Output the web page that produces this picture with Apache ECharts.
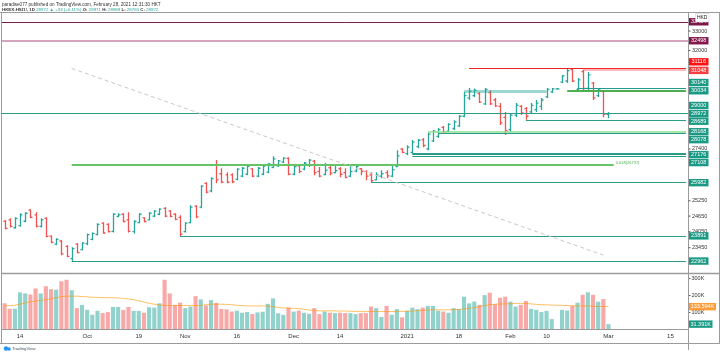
<!DOCTYPE html>
<html><head><meta charset="utf-8">
<script src="https://cdn.jsdelivr.net/npm/echarts/dist/echarts.min.js"></script>
<style>html,body{margin:0;padding:0;background:#fff}#c{width:720px;height:354px}</style>
</head><body><div id="c"></div>
<script>
const barDates = ['2020-09-09','2020-09-10','2020-09-11','2020-09-14','2020-09-15','2020-09-16','2020-09-17','2020-09-18','2020-09-21','2020-09-22','2020-09-23','2020-09-24','2020-09-25','2020-09-28','2020-09-29','2020-09-30',
'2020-10-05','2020-10-06','2020-10-07','2020-10-08','2020-10-09','2020-10-12','2020-10-13','2020-10-14','2020-10-15','2020-10-16','2020-10-19','2020-10-20','2020-10-21','2020-10-22','2020-10-23','2020-10-27','2020-10-28','2020-10-29','2020-10-30',
'2020-11-02','2020-11-03','2020-11-04','2020-11-05','2020-11-06','2020-11-09','2020-11-10','2020-11-11','2020-11-12','2020-11-13','2020-11-16','2020-11-17','2020-11-18','2020-11-19','2020-11-20','2020-11-23','2020-11-24','2020-11-25','2020-11-26','2020-11-27','2020-11-30',
'2020-12-01','2020-12-02','2020-12-03','2020-12-04','2020-12-07','2020-12-08','2020-12-09','2020-12-10','2020-12-11','2020-12-14','2020-12-15','2020-12-16','2020-12-17','2020-12-18','2020-12-21','2020-12-22','2020-12-23','2020-12-24','2020-12-28','2020-12-29','2020-12-30','2020-12-31',
'2021-01-04','2021-01-05','2021-01-06','2021-01-07','2021-01-08','2021-01-11','2021-01-12','2021-01-13','2021-01-14','2021-01-15','2021-01-18','2021-01-19','2021-01-20','2021-01-21','2021-01-22','2021-01-25','2021-01-26','2021-01-27','2021-01-28','2021-01-29',
'2021-02-01','2021-02-02','2021-02-03','2021-02-04','2021-02-05','2021-02-08','2021-02-09','2021-02-10','2021-02-11','2021-02-12','2021-02-16','2021-02-17','2021-02-18','2021-02-19','2021-02-22','2021-02-23','2021-02-24','2021-02-25','2021-02-26','2021-03-01'];
const futureDates = ['2021-03-02','2021-03-03','2021-03-04','2021-03-05','2021-03-06','2021-03-08','2021-03-09','2021-03-10','2021-03-11','2021-03-12','2021-03-13','2021-03-15','2021-03-16','2021-03-17','2021-03-18'];

const opens = [24450,24500,24200,24280,24450,24880,24700,24250,24560,23880,23580,23700,23500,23050,23580,23380,
23600,23760,23950,24380,24330,24060,24640,24720,24500,24050,24400,24580,24500,24650,24720,24950,24850,24720,24600,
24050,24400,25040,25000,25950,25650,26700,26350,26300,26300,26120,26250,26330,26550,26250,26330,26420,26620,26680,26840,27000,
26330,26680,26540,26700,26880,26450,26320,26600,26400,26560,26400,26250,26460,26560,26450,26300,26100,26250,26400,26250,26650,27400,
27200,27250,27500,27800,27400,27750,27950,28350,28180,28300,28420,28850,29700,29800,29900,29420,29950,29600,29300,28800,
28250,28900,29300,29200,29050,29150,29300,29750,29980,30120,30450,30500,31050,30100,30950,30150,30400,29800,30000,28939];
const highs = [24485,24563,24602,24758,24797,24914,24797,24563,24602,23910,23799,23725,23540,23466,23614,23651,
23978,24017,24368,24407,24368,24758,24758,24758,24797,24485,24758,24602,24797,24875,24953,24992,24875,24758,24680,
24407,25070,25070,25878,25999,26205,26923,26585,26417,26374,26585,26628,26712,26585,26628,26712,26796,27092,26923,27050,27050,
26712,26712,26839,26966,26923,26628,26796,26712,26712,26628,26585,26712,26712,26585,26501,26417,26417,26501,26501,26712,27345,27434,
27567,27788,27832,27876,28097,28230,28318,28407,28539,28672,28904,29971,30161,30140,29971,30161,30064,29693,29461,29043,
28997,29461,29368,29275,29461,29600,29693,30161,30161,30120,30793,31116,31100,30647,31036,30939,30453,30161,30064,29043];
const lows = [24134,24212,24173,24251,24407,24563,24212,24212,23836,23614,23540,23170,23096,22962,23244,23355,
23540,23725,23910,23978,24017,24017,24602,24407,24017,23978,24368,24407,24485,24602,24680,24602,24602,24485,23891,
24017,24368,24563,24953,25555,25595,25959,25959,25959,25959,26080,26205,26290,26205,26205,26290,26374,26585,26628,26796,26290,
26290,26374,26501,26628,26290,26205,26290,26290,26374,26205,26163,26205,26417,26290,26080,25982,26080,26163,26163,26205,26628,27220,
27134,27176,27434,27478,27345,27700,27880,28097,28142,28230,28363,28811,29600,29739,29461,29368,29368,29275,28451,28009,
28142,28811,28904,28689,28997,29043,29136,29693,29925,30120,30404,30404,30453,29971,30064,30064,29600,29739,28811,28765];
const closes = [24180,24250,24560,24700,24760,24600,24260,24500,23870,23650,23760,23220,23130,23420,23270,23620,
23940,23990,24330,24000,24050,24720,24700,24440,24060,24440,24720,24440,24760,24840,24920,24650,24640,24520,23960,
24380,25000,24620,25840,25600,26150,26100,26000,26000,26020,26540,26580,26660,26250,26580,26670,26760,26980,26890,27010,26330,
26650,26450,26800,26920,26400,26250,26500,26380,26480,26330,26200,26440,26650,26450,26250,26070,26300,26350,26260,26520,27100,27250,
27480,27700,27780,27550,28050,28180,28250,28150,28480,28600,28850,29800,30020,30050,29500,30100,29420,29330,28550,28200,
28900,29350,29000,28850,29350,29450,29600,30100,30120,30120,30750,31000,30500,30550,30150,30800,29700,30080,28939,28972];
// volume in thousands
const volumes = [153,121,121,217,211,205,240,211,253,236,233,282,291,230,125,144,
115,86,109,96,102,132,132,115,132,109,109,98,130,128,153,291,211,144,157,
125,134,195,176,140,172,155,120,118,105,110,98,102,90,100,104,150,182,95,86,128,
105,111,98,92,125,90,105,98,96,98,96,96,90,96,96,134,125,73,138,86,119,71,
109,128,119,128,138,138,110,105,98,125,119,192,153,163,144,201,215,148,186,192,
163,134,144,167,121,115,102,109,61,0,115,111,138,157,203,218,203,163,178,31.391];
const volumeMA = [138,140,142,148,155,162,166,170,175,180,186,192,195,195,195,193,
191,189,188,187,186,186,185,182,178,175,168,160,153,148,144,141,140,140,140,
140,140,140,141,145,148,148,148,147,145,142,140,138,138,138,138,137,133,129,126,125,
124,122,118,114,110,109,109,109,109,108,108,107,106,106,105,105,105,105,105,105,105,106,
107,108,110,112,114,115,115,115,115,116,117,120,124,128,134,140,145,148,149,150,
151,152,153,152,150,147,145,144,143,142,141,140,139,138,138,137,136,135,134.5,133.594];

const xTickLabels = {'2020-09-14':'14','2020-10-05':'Oct','2020-10-19':'19','2020-11-02':'Nov','2020-11-16':'16','2020-12-01':'Dec','2020-12-14':'14','2021-01-04':'2021','2021-01-18':'18','2021-02-01':'Feb','2021-02-10':'10','2021-03-01':'Mar','2021-03-15':'15'};
const priceTicks = [33000, 32000, 27400, 25250, 24650, 24050, 23450];
const volumeTicks = [100, 200, 300];

// horizontal levels: price, start date (null = full width), end date (null = right edge)
const levelPrices = [33484, 32498, 31116, 31048, 30140, 30034, 30034, 29000, 28689, 28168, 28078, 27176, 27108, 26737, 25982, 23891, 22962];
const levelStarts = [null, null, '2021-01-20', '2021-02-22', '2021-02-19', '2021-02-17', '2021-01-19', null, '2021-02-04', '2021-01-08', '2021-01-12', '2021-01-05', '2021-01-05', '2020-09-28', '2020-12-22', '2020-10-30', '2020-09-28'];
const levelEnds = [null, null, null, null, null, null, '2021-02-10', null, null, null, null, null, null, '2021-03-02', null, null, null];
const trendLine = [['2020-09-28', 31110], ['2021-02-26', 23180]];
const fibText = '0.618(26737)';
const lastClose = 28972, lastVolume = 31.391, lastVolumeMA = 133.594;
const axisBoxPrices = [33484, 32498, 31116, 31048, 30140, 30034, 29000, 28972, 28689, 28168, 28078, 27176, 27108, 25982, 23891, 22962];

const TEAL = '#26a69a', RED = '#ef5350';
const allDates = barDates.concat(futureDates);
const lastSlot = allDates[allDates.length - 1];

const lineStyles = [
  {color:'#7b1f4e', width:1}, {color:'#c488a8', width:1.5}, {color:'#f21f1f', width:1}, {color:'rgba(242,54,69,0.35)', width:3},
  {color:'#1f9e89', width:1}, {color:'#4caf50', width:2}, {color:'rgba(38,166,154,0.45)', width:3}, {color:'#2a9d8a', width:1},
  {color:'#2a9d8a', width:1}, {color:'#8ede8e', width:1.5}, {color:'#2a9d8a', width:1}, {color:'#2a9d8a', width:2},
  {color:'#2a9d8a', width:1}, {color:'#66c466', width:2}, {color:'#2a9d8a', width:1}, {color:'#2a9d8a', width:1}, {color:'#2a9d8a', width:1}
];
const markData = levelPrices.map((p, k) => {
  const ls = {color: lineStyles[k].color, width: lineStyles[k].width, type:'solid'};
  if (levelStarts[k] === null) return {yAxis: p, lineStyle: ls};
  return [{coord:[levelStarts[k], p], lineStyle: ls}, {coord:[levelEnds[k] || lastSlot, p]}];
});
markData.push([{coord: trendLine[0], lineStyle:{color:'#c9c9c9', width:1, type:[4,3]}}, {coord: trendLine[1]}]);

const ohlc = barDates.map((d, i) => [i, opens[i], closes[i], lows[i], highs[i]]);

const chart = echarts.init(document.getElementById('c'), null, {renderer:'canvas'});
const option = {
  animation: false,
  backgroundColor: '#ffffff',
  textStyle: {fontFamily: 'Liberation Sans, Arial, sans-serif'},
  grid: [{left:2, right:31.5, top:12.5, height:261}, {left:2, right:31.5, top:273.5, height:56}],
  xAxis: [
    {type:'category', gridIndex:0, data: allDates, axisLine:{show:false}, axisTick:{show:false}, axisLabel:{show:false}, splitLine:{show:false}},
    {type:'category', gridIndex:1, data: allDates, axisLine:{show:false}, axisTick:{show:false}, splitLine:{show:false},
     axisLabel:{show:true, interval:0, formatter: v => xTickLabels[v] || '', fontSize:6, color:'#333', margin:4}}
  ],
  yAxis: [
    {type:'log', gridIndex:0, position:'right', min:22516, max:33978, splitLine:{show:false}, axisLine:{show:false}, axisTick:{show:false}, axisLabel:{show:false}},
    {type:'value', gridIndex:1, position:'right', min:0, max:327.6, splitLine:{show:false}, axisLine:{show:false},
     axisTick:{show:true, customValues: volumeTicks, length:2, lineStyle:{color:'#666'}},
     axisLabel:{customValues: volumeTicks, formatter: v => v + 'K', fontSize:5.5, color:'#333', margin:3}}
  ],
  series: [
    {type:'scatter', xAxisIndex:0, yAxisIndex:0, data:[], silent:true,
     markLine:{silent:true, symbol:['none','none'], label:{show:false}, animation:false, data: markData}},
    {type:'custom', xAxisIndex:0, yAxisIndex:0, data: ohlc, encode:{x:0, y:[1,2,3,4]}, clip:true,
     renderItem: function(params, api) {
       const i = api.value(0), o = api.value(1), c = api.value(2), l = api.value(3), h = api.value(4);
       const pH = api.coord([i, h]), pL = api.coord([i, l]), pO = api.coord([i, o]), pC = api.coord([i, c]);
       const x = Math.round(pH[0]) + 0.5;
       const col = c >= o ? TEAL : RED;
       const st = {stroke: col, lineWidth: 1.3};
       return {type:'group', children:[
         {type:'line', shape:{x1:x, y1:pH[1] - (h === l ? 0.6 : 0), x2:x, y2:pL[1] + (h === l ? 0.6 : 0)}, style: st},
         {type:'line', shape:{x1:x - 2, y1:pO[1], x2:x, y2:pO[1]}, style: st},
         {type:'line', shape:{x1:x, y1:pC[1], x2:x + 2, y2:pC[1]}, style: st}
       ]};
     }},
    {type:'bar', xAxisIndex:1, yAxisIndex:1, barWidth:'80%',
     data: volumes.map((v, i) => ({value: v, itemStyle:{color: closes[i] >= opens[i] ? 'rgba(38,166,154,0.5)' : 'rgba(239,83,80,0.5)'}}))},
    {type:'line', xAxisIndex:1, yAxisIndex:1, data: volumeMA, symbol:'none', lineStyle:{color:'rgba(255,152,0,0.6)', width:1}}
  ]
};
chart.setOption(option);

const py = p => chart.convertToPixel({yAxisIndex:0}, p);
const vy = v => chart.convertToPixel({yAxisIndex:1}, v);
const px = d => chart.convertToPixel({xAxisIndex:0}, d);
const FR = '#9b9b9b';
const g = [];
function ln(x1,y1,x2,y2,w,c){ g.push({type:'line', silent:true, z:50, shape:{x1,y1,x2,y2}, style:{stroke:c||FR, lineWidth:w||1}}); }
ln(0,12.5,720,12.5); ln(1.5,12.5,1.5,343.5); ln(688.5,12.5,688.5,350); ln(719.5,12.5,719.5,343.5);
ln(1.5,273.5,720,273.5,1.5); ln(1.5,329.5,688.5,329.5); ln(0,343.5,720,343.5);

// price tick labels
priceTicks.forEach(p => {
  const y = py(p);
  g.push({type:'text', z:60, style:{x:692, y:y, text:String(p), fontSize:5.5, fill:'#333', verticalAlign:'middle', fontFamily:'Liberation Sans, Arial'}});
  ln(688.5, y, 690.5, y, 1, '#555');
});
// axis boxes
const boxColors = {33484:'#7b1748', 32498:'#84184c', 31116:'#ff1111', 31048:'#f44040'};
const boxShift = {31116:-6.5, 31048:0.7, 30140:-6, 29000:-7.5, 28689:1.4, 28168:0.3, 28078:6.2, 27176:0.4, 27108:6.8};
axisBoxPrices.forEach(p => {
  const y = py(p) + (boxShift[p] || 0);
  const col = boxColors[p] || '#1a9a85';
  g.push({type:'rect', z:61, shape:{x:689, y:y - 3.7, width:19.5, height:7.4}, style:{fill:col}});
  g.push({type:'text', z:62, style:{x:698.7, y:y, text:String(p), fontSize:5.5, fill:'#fff', align:'center', verticalAlign:'middle', fontFamily:'Liberation Sans, Arial'}});
});
// HKD (covers most of the top box, as in the original)
g.push({type:'rect', z:63, shape:{x:695.5, y:13.5, width:13.5, height:8.5}, style:{fill:'#fff', stroke:'#c8c8c8', lineWidth:0.5}});
g.push({type:'text', z:64, style:{x:702.2, y:17.2, text:'HKD', fontSize:5, fill:'#222', align:'center', verticalAlign:'middle'}});
// volume boxes
g.push({type:'rect', z:61, shape:{x:689, y:vy(lastVolumeMA) - 3.7, width:27, height:7.4}, style:{fill:'#ff9d3b'}});
g.push({type:'text', z:62, style:{x:702.5, y:vy(lastVolumeMA), text: lastVolumeMA.toFixed(3) + 'K', fontSize:5.5, fill:'#fff', align:'center', verticalAlign:'middle'}});
g.push({type:'rect', z:61, shape:{x:689, y:vy(lastVolume) - 3.7, width:23.5, height:7.4}, style:{fill:'#1a9a85'}});
g.push({type:'text', z:62, style:{x:700.7, y:vy(lastVolume), text: lastVolume.toFixed(3) + 'K', fontSize:5.5, fill:'#fff', align:'center', verticalAlign:'middle'}});
// fib label
g.push({type:'text', z:62, style:{x:px('2021-03-02') + 2, y:py(26737) - 1.5, text: fibText, fontSize:4, fill:'#4caf50', verticalAlign:'middle'}});
// header
g.push({type:'text', z:70, style:{x:2, y:4.5, text:'paradise077 published on TradingView.com, February 28, 2021 12:31:30 HKT', fontSize:4.6, fill:'#333', verticalAlign:'middle'}});
g.push({type:'text', z:70, style:{x:2, y:9.8, text:'{a|HKEX:HSI1!, 1D }{b|28972 ▲ +33 (+0.11%)}{a| O: }{b|28971}{a| H: }{b|28989}{a| L: }{b|28763}{a| C: }{b|28972}',
  verticalAlign:'middle', rich:{a:{fontSize:4.4, fill:'#333', fontWeight:'bold'}, b:{fontSize:4.4, fill:'#26a69a'}}}});
// TradingView logo
g.push({type:'circle', z:70, shape:{cx:6, cy:348.5, r:2.2}, style:{fill:'#2196f3'}});
g.push({type:'circle', z:70, shape:{cx:9, cy:349, r:1.8}, style:{fill:'#2196f3'}});
g.push({type:'text', z:70, style:{x:12, y:349, text:'TradingView', fontSize:4.3, fill:'#4a5566', verticalAlign:'middle'}});
chart.setOption({graphic: g});
</script>
</body></html>
